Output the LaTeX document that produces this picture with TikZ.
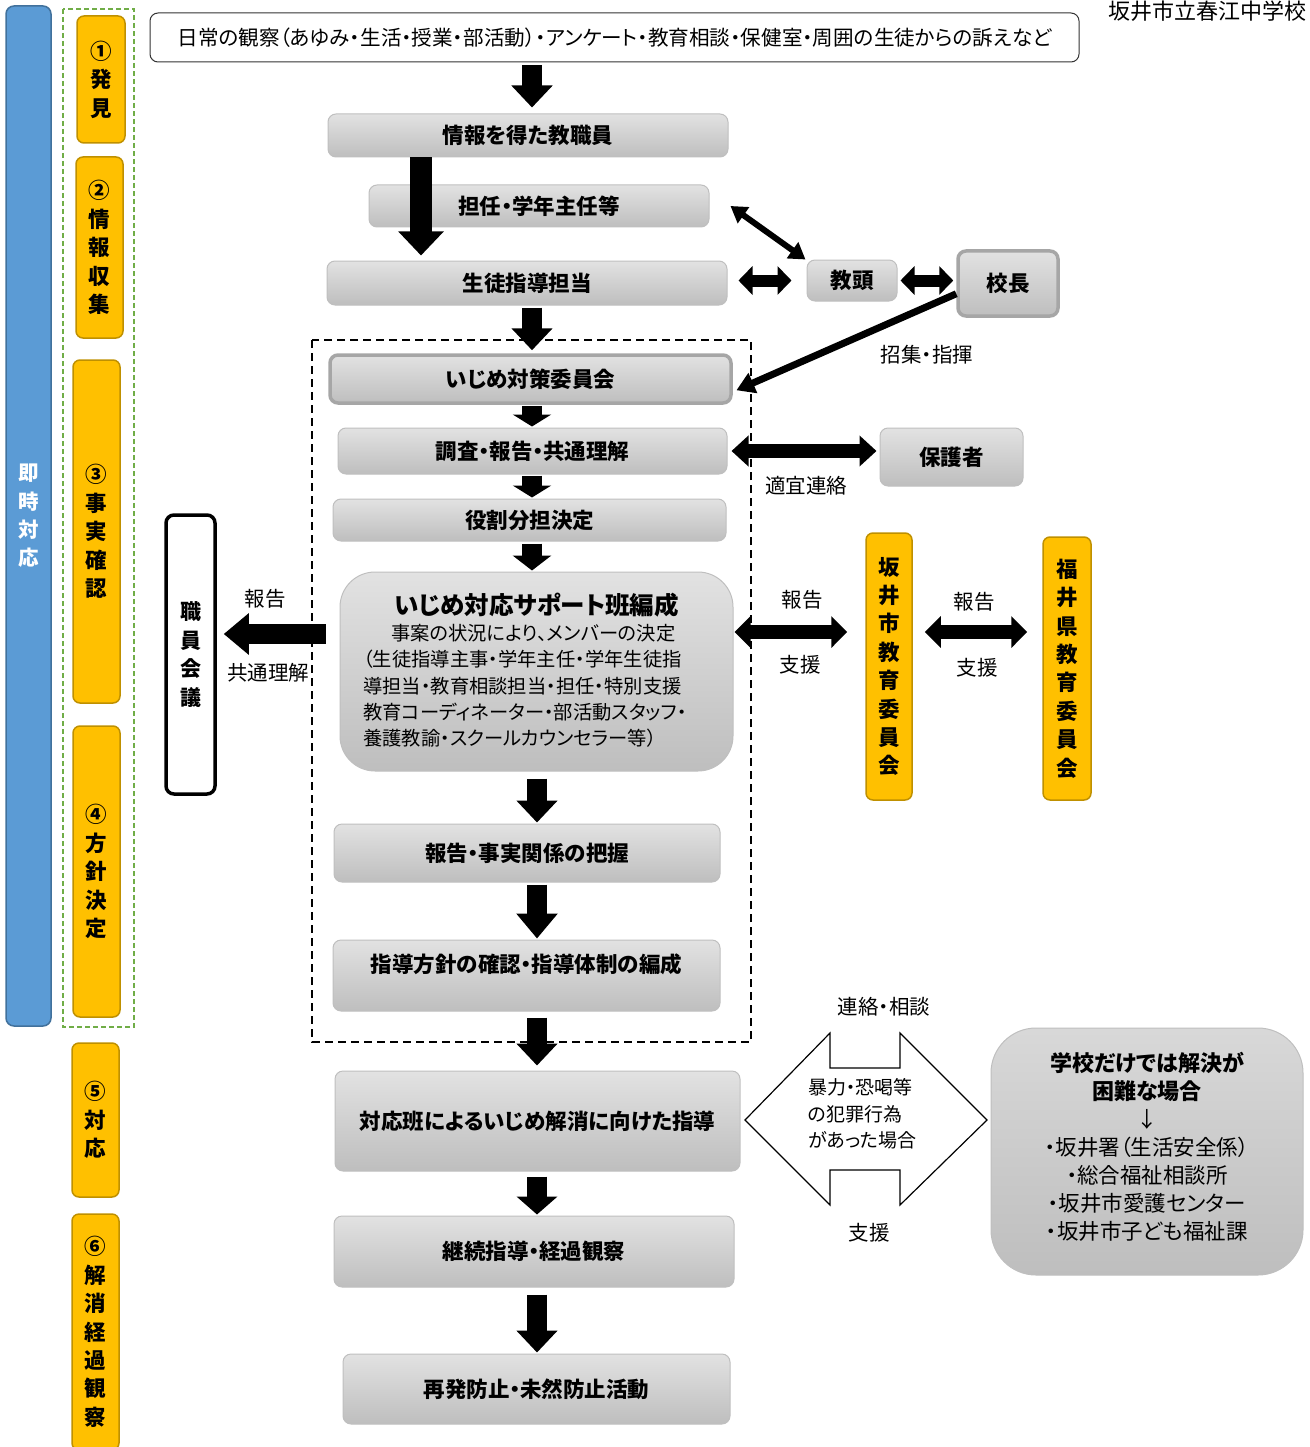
\documentclass[tikz,border=0pt]{standalone}
\usepackage{fontspec}
\setmainfont{Noto Sans CJK JP}[RawFeature=+palt]
\usetikzlibrary{arrows.meta,calc}

\newlength{\du}
\setlength{\du}{1pt}

\definecolor{boxtop}{HTML}{E2E2E2}
\definecolor{boxbottom}{HTML}{BEBEBE}
\definecolor{boxedge}{HTML}{BFBFBF}
\definecolor{heavyedge}{HTML}{A6A6A6}
\definecolor{phasefill}{HTML}{FFC000}
\definecolor{phaseedge}{HTML}{BF9000}
\definecolor{barfill}{HTML}{5B9BD5}
\definecolor{baredge}{HTML}{41719C}
\definecolor{groupgreen}{HTML}{70AD47}

% arrow tips are given in pt (1pt = 1\du)
\tikzset{
  graybox/.style={draw=boxedge, line width=1\du, rounded corners=8\du, top color=boxtop, bottom color=boxbottom, inner sep=0pt, font=\bfseries\fontsize{21.5}{24}\selectfont},
  heavybox/.style={graybox, draw=heavyedge, line width=3.5\du},
  phasebox/.style={draw=phaseedge, line width=1.5\du, fill=phasefill, rounded corners=7\du, inner sep=0pt, align=center, font=\bfseries\fontsize{21.5}{28.4}\selectfont},
  plainlbl/.style={inner sep=0pt, font=\fontsize{20.5}{24}\selectfont},
  blockarrow/.style={line width=20\du, -{Triangle[length=22pt,width=40pt]}},
  stubarrow/.style={line width=20\du, -{Triangle[length=12pt,width=38pt]}},
  twoarrow/.style={line width=14\du, {Triangle[length=17pt,width=30pt]}-{Triangle[length=17pt,width=30pt]}},
  slimtwo/.style={line width=12\du, {Triangle[length=14pt,width=28pt]}-{Triangle[length=14pt,width=28pt]}},
  thinarrow/.style={line width=6\du, {Triangle[length=16pt,width=19pt]}-{Triangle[length=16pt,width=19pt]}},
}

\begin{document}
\begin{tikzpicture}
\pgftransformyscale{-1.000000}
\useasboundingbox (0\du,0\du) rectangle (1309\du,1447\du);

% stages on the left
\node[draw=baredge, line width=1.5\du, fill=barfill, rounded corners=8\du, minimum width=45\du, minimum height=1020\du, inner sep=0pt, align=center, text=white, font=\bfseries\fontsize{20.5}{28.3}\selectfont] (bar) at (28.5\du,516\du) {即\\時\\対\\応};
\draw[groupgreen, line width=1.5\du, dash pattern=on 5\du off 3\du] (63\du,9\du) rectangle (134\du,1027\du);
\node[phasebox, minimum width=48\du, minimum height=127\du] (discover) at (101\du,79.5\du) {①\\発\\見};
\node[phasebox, minimum width=47\du, minimum height=181\du] (gather) at (99.5\du,247.5\du) {②\\情\\報\\収\\集};
\node[phasebox, minimum width=47\du, minimum height=343\du] (confirm) at (96.5\du,531.5\du) {③\\事\\実\\確\\認};
\node[phasebox, minimum width=47\du, minimum height=291\du] (policy) at (96.5\du,871.5\du) {④\\方\\針\\決\\定};
\node[phasebox, minimum width=47\du, minimum height=154\du] (respond) at (95.5\du,1120\du) {⑤\\対\\応};
\node[phasebox, minimum width=47\du, minimum height=236\du] (resolve) at (95.5\du,1332\du) {⑥\\解\\消\\経\\過\\観\\察};

% dashed frame
\draw[line width=1.5\du, dash pattern=on 8\du off 5\du] (312\du,340\du) rectangle (751\du,1042\du);

\node[draw=black!80, line width=1\du, fill=white, rounded corners=8\du, minimum width=929\du, minimum height=49\du, inner sep=0pt, font=\fontsize{20.6}{24}\selectfont] (source) at (614.5\du,37.5\du) {日常の観察（あゆみ・生活・授業・部活動）・アンケート・教育相談・保健室・周囲の生徒からの訴えなど};
\node[plainlbl, font=\fontsize{22}{24}\selectfont] (school) at (1207\du,11\du) {坂井市立春江中学校};

% main column
\node[graybox, minimum width=400\du, minimum height=43\du] (info) at (528\du,135.5\du) {情報を得た教職員};
\node[graybox, minimum width=340\du, minimum height=42\du] (tannin) at (539\du,206\du) {担任・学年主任等};
\node[graybox, minimum width=400\du, minimum height=44\du] (shidou) at (527\du,283\du) {生徒指導担当};
\node[graybox, minimum width=90\du, minimum height=41\du] (kyoutou) at (852\du,280.5\du) {教頭};
\node[heavybox, minimum width=100\du, minimum height=65\du] (koucho) at (1008\du,283.5\du) {校長};
\node[heavybox, minimum width=401\du, minimum height=48\du] (iinkai) at (530.5\du,379\du) {いじめ対策委員会};
\node[graybox, minimum width=389\du, minimum height=46\du] (chousa) at (532.5\du,451\du) {調査・報告・共通理解};
\node[graybox, minimum width=143\du, minimum height=58\du] (hogosha) at (951.5\du,457\du) {保護者};
\node[graybox, minimum width=393\du, minimum height=42\du] (yakuwari) at (529.5\du,520\du) {役割分担決定};
\node[graybox, rounded corners=35\du, minimum width=393\du, minimum height=199\du] (support) at (536.5\du,671.5\du) {};
\node[inner sep=0pt, font=\bfseries\fontsize{24.5}{28}\selectfont] (supporttitle) at (536.5\du,605\du) {いじめ対応サポート班編成};
\node[inner sep=0pt, align=left, font=\fontsize{19.3}{26.3}\selectfont, anchor=west] (supportbody) at (363\du,686\du) {\hspace*{28\du}事案の状況により、メンバーの決定\\（生徒指導主事・学年主任・学年生徒指\\導担当・教育相談担当・担任・特別支援\\教育コーディネーター・部活動スタッフ・\\養護教諭・スクールカウンセラー等）};
\node[graybox, minimum width=386\du, minimum height=58\du] (houkoku) at (527\du,853\du) {報告・事実関係の把握};
\node[graybox, minimum width=387\du, minimum height=71\du, align=center] (houshin) at (526.5\du,975.5\du) {指導方針の確認・指導体制の編成\\[0pt]\mbox{}};
\node[graybox, minimum width=405\du, minimum height=100\du] (taiou) at (537.5\du,1121\du) {対応班によるいじめ解消に向けた指導};
\node[graybox, minimum width=400\du, minimum height=71\du] (keizoku) at (534\du,1251.5\du) {継続指導・経過観察};
\node[graybox, minimum width=387\du, minimum height=70\du] (saihatsu) at (536.5\du,1389\du) {再発防止・未然防止活動};

% outside
\node[draw=black, line width=3.5\du, fill=white, rounded corners=8\du, minimum width=49\du, minimum height=279\du, inner sep=0pt, align=center, font=\bfseries\fontsize{21}{28.4}\selectfont] (staffmeet) at (190.5\du,654.5\du) {職\\員\\会\\議};
\node[phasebox, minimum width=46\du, minimum height=267\du] (cityboard) at (889\du,666.5\du) {坂\\井\\市\\教\\育\\委\\員\\会};
\node[phasebox, minimum width=48\du, minimum height=263\du] (prefboard) at (1067\du,668.5\du) {福\\井\\県\\教\\育\\委\\員\\会};
\node[graybox, rounded corners=45\du, top color=boxtop!90!gray, minimum width=312\du, minimum height=247\du, align=center, font=\fontsize{21.5}{28}\selectfont] (outside) at (1147\du,1151.5\du) {{\bfseries\fontsize{22}{28}\selectfont 学校だけでは解決が}\\{\bfseries\fontsize{22}{28}\selectfont 困難な場合}\\↓\\・坂井署（生活安全係）\\・総合福祉相談所\\・坂井市愛護センター\\・坂井市子ども福祉課\\[-16\du]\mbox{}};

% labels
\node[plainlbl] (convene) at (927\du,355\du) {招集・指揮};
\node[plainlbl] (contact) at (806\du,486\du) {適宜連絡};
\node[plainlbl] (reportL) at (265\du,599\du) {報告};
\node[plainlbl] (shareL) at (268\du,673\du) {共通理解};
\node[plainlbl] (reportC) at (802\du,600\du) {報告};
\node[plainlbl] (aidC) at (800\du,665\du) {支援};
\node[plainlbl] (reportP) at (974\du,602\du) {報告};
\node[plainlbl] (aidP) at (977\du,668\du) {支援};
\node[plainlbl] (consult) at (884\du,1007\du) {連絡・相談};
\node[plainlbl] (aidX) at (869\du,1233\du) {支援};

% hollow arrow to the police etc.
\draw[line width=1.2\du, fill=white] (745\du,1120\du) -- (830\du,1033\du) -- (830\du,1068\du) -- (900\du,1068\du) -- (900\du,1033\du) -- (987\du,1120\du) -- (900\du,1205\du) -- (900\du,1170\du) -- (830\du,1170\du) -- (830\du,1205\du) -- cycle;
\node[inner sep=0pt, align=left, anchor=west, font=\fontsize{19}{26.5}\selectfont] (crime) at (808\du,1114\du) {暴力・恐喝等\\の犯罪行為\\があった場合};

% arrows
\coordinate (spineup) at (532\du,0\du);
\coordinate (spinelow) at (537\du,0\du);
\coordinate (leftdrop) at (421\du,0\du);
\coordinate (reportrow) at (0\du,634\du);
\coordinate (boardrow) at (0\du,632\du);

\draw[blockarrow, shorten <=3\du, shorten >=6\du] (source.south -| spineup) -- (info.north -| spineup);
\draw[blockarrow, line width=22\du, -{Triangle[length=24pt,width=44pt]}, shorten >=5\du] (info.south -| leftdrop) -- (shidou.north -| leftdrop);
\draw[thinarrow] ([xshift=21\du]tannin.east) -- ([xshift=-1\du]kyoutou.north west);
\draw[slimtwo, shorten <=11\du, shorten >=15\du] (shidou.east |- kyoutou.west) -- (kyoutou.west);
\draw[slimtwo, shorten <=3\du, shorten >=3\du] (kyoutou.east) -- (kyoutou.east -| koucho.west);
\draw[thinarrow, line width=7\du, -{Triangle[length=18pt,width=21pt]}, shorten >=4\du] ($(koucho.west)!0.3!(koucho.south west)$) -- ($(iinkai.east)!0.5!(iinkai.south east)$);
\draw[blockarrow, shorten <=2\du, shorten >=3\du] (shidou.south -| spineup) -- (iinkai.north -| spineup);
\draw[stubarrow, shorten <=1\du, shorten >=1\du] (iinkai.south -| spineup) -- (chousa.north -| spineup);
\draw[stubarrow, shorten <=1\du, shorten >=1\du] (chousa.south -| spineup) -- (yakuwari.north -| spineup);
\draw[stubarrow, -{Triangle[length=15pt,width=38pt]}, shorten <=2\du, shorten >=1\du] (yakuwari.south -| spineup) -- (support.north -| spineup);
\draw[twoarrow, shorten <=4\du, shorten >=3\du] (chousa.east) -- (chousa.east -| hogosha.west);
\draw[blockarrow, -{Triangle[length=25pt,width=40pt]}, shorten <=14\du, shorten >=7\du] (support.west |- reportrow) -- (staffmeet.east |- reportrow);
\draw[twoarrow, {Triangle[length=16pt,width=31pt]}-{Triangle[length=16pt,width=31pt]}, shorten <=1\du, shorten >=18\du] (support.east |- boardrow) -- (cityboard.west |- boardrow);
\draw[twoarrow, {Triangle[length=16pt,width=31pt]}-{Triangle[length=16pt,width=31pt]}, shorten <=12\du, shorten >=15\du] (cityboard.east |- boardrow) -- (prefboard.west |- boardrow);
\draw[blockarrow, shorten <=7\du, shorten >=1\du] (support.south -| spinelow) -- (houkoku.north -| spinelow);
\draw[blockarrow, -{Triangle[length=25pt,width=40pt]}, shorten <=2\du, shorten >=1\du] (houkoku.south -| spinelow) -- (houshin.north -| spinelow);
\draw[blockarrow, shorten <=6\du, shorten >=5\du] (houshin.south -| spinelow) -- (taiou.north -| spinelow);
\draw[blockarrow, -{Triangle[length=18pt,width=40pt]}, shorten <=5\du, shorten >=1\du] (taiou.south -| spinelow) -- (keizoku.north -| spinelow);
\draw[blockarrow, shorten <=7\du, shorten >=1\du] (keizoku.south -| spinelow) -- (saihatsu.north -| spinelow);
\end{tikzpicture}
\end{document}
